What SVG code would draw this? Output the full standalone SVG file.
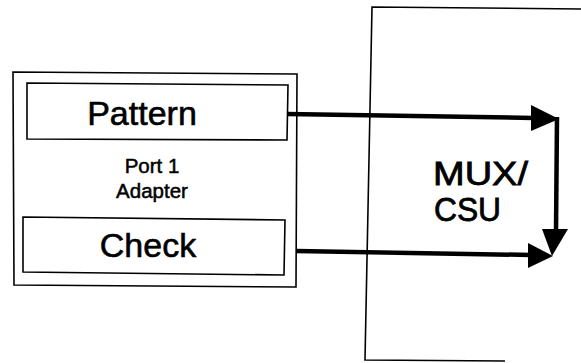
<svg xmlns="http://www.w3.org/2000/svg" width="581" height="363" viewBox="0 0 581 363">
<style>
.box{fill:none;stroke:#000;stroke-width:1.6}
.conn{fill:none;stroke:#000;stroke-width:4.5}
.head{fill:#000;stroke:none}
text{font-family:"Liberation Sans",Arial,sans-serif;fill:#000;stroke:#000;stroke-width:0.6}
.small{stroke-width:0.5;font-size:20.5px}
.mux{font-size:34px;stroke-width:0.8}
</style>
<rect width="581" height="363" fill="#fff"/>
<g id="adapter">
<polygon class="box" points="13,72 297,74 296,287 14,285"/>
<text class="small" x="152" y="173" text-anchor="middle">Port 1</text>
<text class="small" x="152" y="198" text-anchor="middle">Adapter</text>
</g>
<g id="pattern">
<polygon class="box" points="27,83 288,85 287,140 27,139"/>
<text x="142" y="125" font-size="34" text-anchor="middle">Pattern</text>
</g>
<g id="check">
<polygon class="box" points="23,217 285,220 284,275 23,272"/>
<text x="148" y="257" font-size="34" text-anchor="middle">Check</text>
</g>
<g id="mux">
<polyline class="box" points="581,9 372,7 365,360 505,361"/>
<text class="mux" x="433" y="185" textLength="95" lengthAdjust="spacingAndGlyphs">MUX/</text>
<text class="mux" x="434" y="221" textLength="67" lengthAdjust="spacingAndGlyphs">CSU</text>
</g>
<g id="connectors">
<polyline class="conn" points="287,114 534,118"/>
<polygon class="head" points="531,105 559,119 531,131"/>
<polyline class="conn" points="557,117 556,231"/>
<polygon class="head" points="542,229 568,229 552,256"/>
<polyline class="conn" points="296,251 531,255"/>
<polygon class="head" points="528,243 553,256 528,268"/>
</g>
</svg>
